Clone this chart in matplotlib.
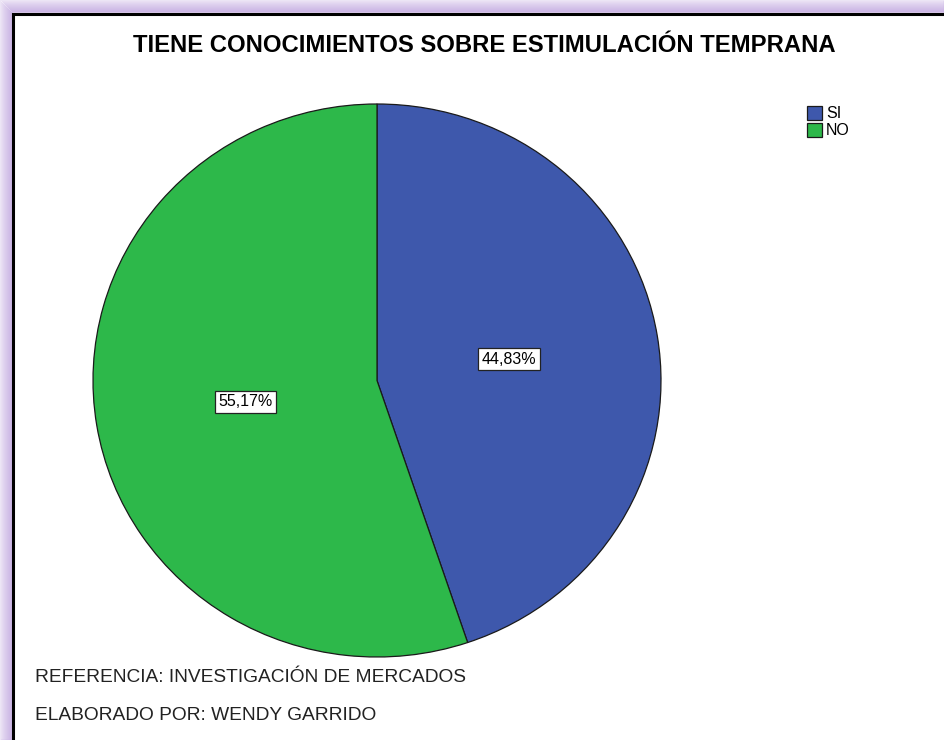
import matplotlib.pyplot as plt
import matplotlib.patches as mpatches
import numpy as np

categorias = ['SI', 'NO']
porcentajes = [44.83, 55.17]
colores = ['#3e58ac', '#2db84a']

titulo = 'TIENE CONOCIMIENTOS SOBRE ESTIMULACIÓN TEMPRANA'
nota_1 = 'REFERENCIA: INVESTIGACIÓN DE MERCADOS'
nota_2 = 'ELABORADO POR: WENDY GARRIDO'

plt.rcParams['font.family'] = ['Liberation Sans', 'DejaVu Sans']

W, H = 944, 740
fig = plt.figure(figsize=(W / 100, H / 100), dpi=100)

# fondo y marco (coordenadas en pixeles)
bg = fig.add_axes([0, 0, 1, 1])
bg.set_xlim(0, W)
bg.set_ylim(H, 0)
bg.axis('off')
for i in range(13):
    a = 0.12 + 0.6 * (i + 1) / 13
    bg.add_patch(mpatches.Rectangle((i, i), W, H, facecolor='none',
                                    edgecolor=(0.76, 0.66, 0.88, a), linewidth=1.2))
bg.add_patch(mpatches.Rectangle((13, 14), W, H, facecolor='white',
                                edgecolor='black', linewidth=2.2))

# pastel (la imagen original esta un poco achatada en vertical)
cx, cy, rx, ry = 377, 380.5, 284, 276.5
ax = fig.add_axes([(cx - rx) / W, (H - cy - ry) / H, 2 * rx / W, 2 * ry / H])
wedges, textos, autotextos = ax.pie(
    porcentajes, colors=colores, startangle=90, counterclock=False,
    autopct=lambda p: f'{p:.2f}%'.replace('.', ','), pctdistance=0.47,
    wedgeprops=dict(edgecolor='#1a1a1a', linewidth=0.9))
for t in autotextos:
    t.set_fontsize(11.5)
    t.set_color('black')
    t.set_bbox(dict(boxstyle='square,pad=0.22', facecolor='white',
                    edgecolor='#222222', linewidth=0.9))
ax.set_xlim(-1, 1)
ax.set_ylim(-1, 1)
ax.set_aspect('auto')

fig.text(484 / W, 1 - 46 / H, titulo, ha='center', va='center',
         fontsize=17.2, fontweight='bold')

fig.legend(wedges, categorias, loc='upper left', bbox_to_anchor=(807 / W, 1 - 106 / H),
           frameon=False, fontsize=11.5, handlelength=0.95, handleheight=0.95,
           handletextpad=0.25, labelspacing=0.1, borderaxespad=0, borderpad=0)

fig.text(35 / W, 1 - 678 / H, nota_1, ha='left', va='center', fontsize=13.8, color='#222222')
fig.text(35 / W, 1 - 715 / H, nota_2, ha='left', va='center', fontsize=13.8, color='#222222')

fig.savefig('out.png', dpi=100)
